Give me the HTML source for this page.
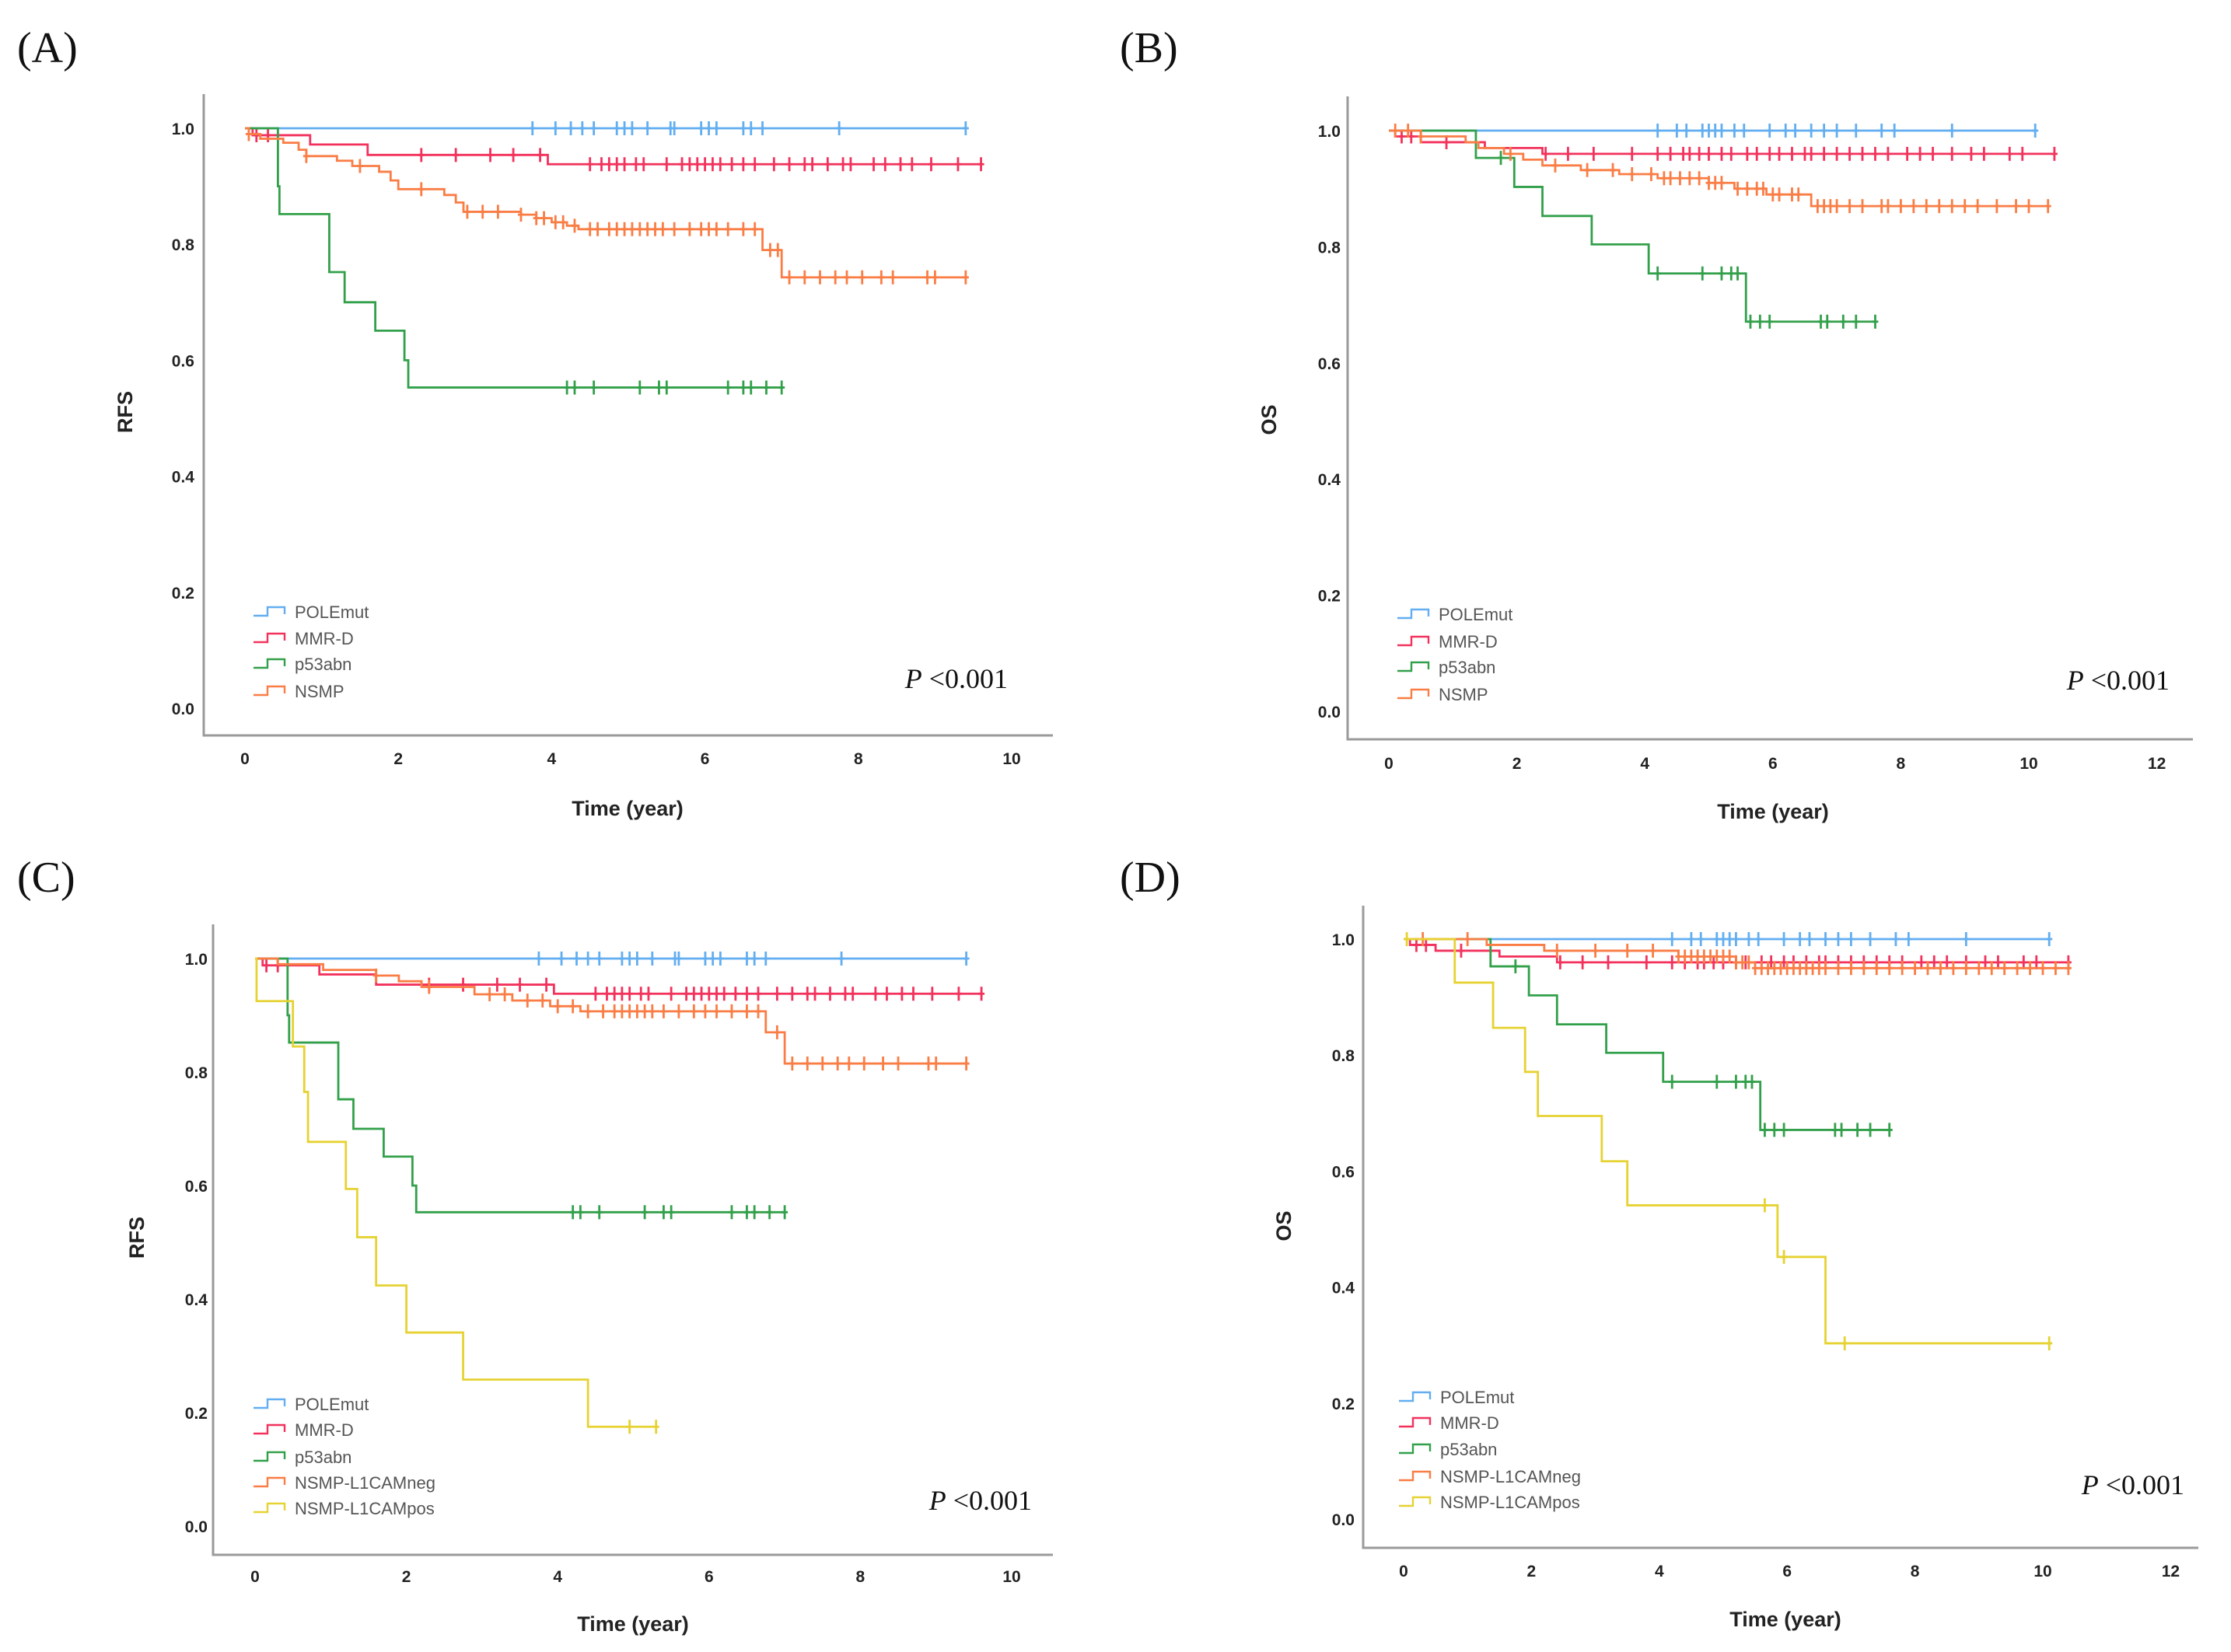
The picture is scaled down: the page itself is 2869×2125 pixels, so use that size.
<!DOCTYPE html>
<html><head><meta charset="utf-8">
<style>
html,body{margin:0;padding:0;background:#fff;}
svg{display:block;}
.tick{font-family:"Liberation Sans",Arial,sans-serif;font-weight:bold;font-size:21px;fill:#222;}
.ttl{font-family:"Liberation Sans",Arial,sans-serif;font-weight:bold;font-size:27px;fill:#222;}
.leg{font-family:"Liberation Sans",Arial,sans-serif;font-size:22px;fill:#555;}
.plab{font-family:"Liberation Serif","Times New Roman",serif;font-size:56px;fill:#111;}
.pval{font-family:"Liberation Serif","Times New Roman",serif;font-size:36px;fill:#111;}
</style></head>
<body>
<svg id="fig" width="2869" height="2125" viewBox="0 0 2869 2125" xmlns="http://www.w3.org/2000/svg"></svg>
<script>
// ---- data: steps are [time, survival] ; censors are times ; ends are last follow-up ----
const poleSteps = [];
const poleCensRFS = [3.75,4.05,4.25,4.4,4.55,4.85,4.95,5.05,5.25,5.55,5.6,5.95,6.05,6.15,6.5,6.6,6.75,7.75,9.4];
const poleCensOS = [4.2,4.5,4.65,4.9,5.0,5.1,5.2,5.4,5.55,5.95,6.2,6.35,6.6,6.8,7.0,7.3,7.7,7.9,8.8,10.1];
const mmrStepsRFS = [[0.1,0.988],[0.85,0.972],[1.6,0.954],[3.95,0.938]];
const mmrCensRFS = [0.15,0.3,2.3,2.75,3.2,3.5,3.85,4.5,4.65,4.75,4.85,4.95,5.1,5.2,5.5,5.7,5.8,5.9,6.0,6.1,6.2,6.35,6.5,6.65,6.9,7.1,7.3,7.4,7.6,7.8,7.9,8.2,8.35,8.55,8.7,8.95,9.3,9.6];
const mmrStepsOS = [[0.1,0.99],[0.5,0.98],[1.5,0.97],[2.4,0.96]];
const mmrCensOS = [0.2,0.35,0.9,2.45,2.8,3.2,3.8,4.2,4.4,4.6,4.7,4.85,5.0,5.2,5.35,5.6,5.75,5.95,6.1,6.3,6.5,6.6,6.8,7.0,7.2,7.4,7.6,7.8,8.1,8.3,8.5,8.8,9.1,9.3,9.7,9.9,10.4];
const p53StepsRFS = [[0.43,0.90],[0.45,0.852],[1.1,0.752],[1.3,0.70],[1.7,0.651],[2.08,0.60],[2.13,0.553]];
const p53CensRFS = [4.2,4.3,4.55,5.15,5.4,5.5,6.3,6.5,6.6,6.8,7.0];
const p53StepsOS = [[1.36,0.953],[1.96,0.903],[2.4,0.853],[3.17,0.804],[4.06,0.754],[5.58,0.671]];
const p53CensOS = [1.75,4.2,4.9,5.2,5.35,5.45,5.65,5.8,5.95,6.75,6.85,7.1,7.3,7.6];
const nsmpStepsRFS = [[0.05,0.99],[0.2,0.982],[0.5,0.975],[0.7,0.963],[0.8,0.952],[1.2,0.944],[1.4,0.935],[1.75,0.925],[1.9,0.91],[2.0,0.895],[2.6,0.885],[2.75,0.872],[2.85,0.856],[3.6,0.851],[3.8,0.845],[4.0,0.838],[4.2,0.832],[4.35,0.826],[6.75,0.79],[7.0,0.743]];
const nsmpCensRFS = [0.05,0.8,1.5,2.3,2.9,3.1,3.3,3.6,3.8,3.9,4.05,4.15,4.3,4.5,4.6,4.75,4.85,4.95,5.05,5.15,5.25,5.35,5.45,5.6,5.8,5.95,6.05,6.15,6.3,6.5,6.65,6.85,6.95,7.1,7.3,7.5,7.7,7.85,8.05,8.3,8.45,8.9,9.0,9.4];
const nsmpStepsOS = [[0.5,0.99],[1.2,0.98],[1.4,0.97],[1.8,0.96],[2.1,0.95],[2.4,0.94],[3.0,0.932],[3.6,0.925],[4.2,0.918],[5.0,0.91],[5.4,0.9],[5.9,0.89],[6.6,0.87]];
const nsmpCensOS = [0.1,0.3,0.5,1.9,2.6,3.1,3.5,3.8,4.1,4.3,4.4,4.55,4.7,4.85,5.0,5.1,5.2,5.45,5.6,5.75,5.85,6.0,6.1,6.3,6.4,6.7,6.8,6.9,7.0,7.2,7.4,7.7,7.8,8.0,8.2,8.4,8.6,8.8,9.0,9.2,9.5,9.8,10.0,10.3];
const negStepsRFS = [[0.3,0.99],[0.9,0.98],[1.6,0.97],[1.9,0.96],[2.2,0.95],[2.9,0.937],[3.4,0.926],[3.9,0.916],[4.3,0.907],[6.75,0.87],[7.0,0.815]];
const negCensRFS = [1.6,2.3,3.1,3.3,3.6,3.8,4.0,4.2,4.4,4.6,4.75,4.85,4.95,5.05,5.15,5.25,5.4,5.6,5.8,5.95,6.1,6.3,6.5,6.65,6.9,7.1,7.3,7.5,7.7,7.85,8.05,8.3,8.5,8.9,9.0,9.4];
const posStepsRFS = [[0.02,0.925],[0.5,0.845],[0.65,0.765],[0.7,0.677],[1.2,0.594],[1.35,0.509],[1.6,0.424],[2.0,0.341],[2.75,0.258],[4.4,0.175]];
const posCensRFS = [4.95,5.3];
const negStepsOS = [[1.3,0.99],[2.2,0.98],[4.3,0.97],[5.2,0.96],[5.5,0.95]];
const negCensOS = [0.3,1.0,2.4,3.0,3.5,3.9,4.3,4.4,4.5,4.6,4.7,4.8,4.9,5.0,5.1,5.2,5.3,5.4,5.5,5.6,5.7,5.8,5.9,6.0,6.1,6.2,6.3,6.4,6.5,6.6,6.8,7.0,7.2,7.4,7.6,7.8,8.0,8.2,8.4,8.6,8.8,9.0,9.2,9.4,9.6,9.8,10.0,10.2,10.4];
const posStepsOS = [[0.8,0.925],[1.4,0.847],[1.9,0.771],[2.1,0.695],[3.1,0.617],[3.5,0.541],[5.85,0.452],[6.6,0.303]];
const posCensOS = [0.05,5.65,5.95,6.9,10.1];
const yTickLabels = ["0.0","0.2","0.4","0.6","0.8","1.0"];
const xTicksA = [0,2,4,6,8,10];
const xTicksB = [0,2,4,6,8,10,12];

const COL = {pole:"#62aef0", mmr:"#f2325c", p53:"#32a04a", nsmp:"#fa7d45", pos:"#e6d232"};
const NS = "http://www.w3.org/2000/svg";
const svg = document.getElementById('fig');
function mk(tag, attrs, parent){const e=document.createElementNS(NS,tag);for(const k in attrs)e.setAttribute(k,attrs[k]);(parent||svg).appendChild(e);return e;}

const panels = [
 {id:"a", label:"(A)", lx:22, ly:80, axL:262, axB:946, axT:121, axR:1354, x0:315, xpu:98.6, xt:xTicksA, y1:165, y0:911, ylab:"RFS", ylx:170, yly:530, xtx:807, xty:1049, xtlY:983, ytlX:250,
  legY:[787,821,854,889], legX:326, pvR:1296, pvY:885,
  series:[["POLEmut","pole",poleSteps,poleCensRFS,9.4],["MMR-D","mmr",mmrStepsRFS,mmrCensRFS,9.6],["p53abn","p53",p53StepsRFS,p53CensRFS,7.0],["NSMP","nsmp",nsmpStepsRFS,nsmpCensRFS,9.4]]},
 {id:"b", label:"(B)", lx:1440, ly:80, axL:1733, axB:951, axT:124, axR:2820, x0:1786, xpu:82.3, xt:xTicksB, y1:168, y0:915, ylab:"OS", ylx:1641, yly:540, xtx:2280, xty:1053, xtlY:989, ytlX:1724,
  legY:[790,825,858,893], legX:1797, pvR:2790, pvY:887,
  series:[["POLEmut","pole",poleSteps,poleCensOS,10.1],["MMR-D","mmr",mmrStepsOS,mmrCensOS,10.4],["p53abn","p53",p53StepsOS,p53CensOS,7.6],["NSMP","nsmp",nsmpStepsOS,nsmpCensOS,10.3]]},
 {id:"c", label:"(C)", lx:22, ly:1147, axL:274, axB:2000, axT:1189, axR:1354, x0:328, xpu:97.3, xt:xTicksA, y1:1233, y0:1963, ylab:"RFS", ylx:185, yly:1592, xtx:814, xty:2098, xtlY:2035, ytlX:267,
  legY:[1806,1839,1874,1907,1940], legX:326, pvR:1327, pvY:1942,
  series:[["POLEmut","pole",poleSteps,poleCensRFS,9.4],["MMR-D","mmr",mmrStepsRFS,mmrCensRFS,9.6],["p53abn","p53",p53StepsRFS,p53CensRFS,7.0],["NSMP-L1CAMneg","nsmp",negStepsRFS,negCensRFS,9.4],["NSMP-L1CAMpos","pos",posStepsRFS,posCensRFS,5.3]]},
 {id:"d", label:"(D)", lx:1440, ly:1147, axL:1753, axB:1991, axT:1165, axR:2827, x0:1805, xpu:82.2, xt:xTicksB, y1:1208, y0:1954, ylab:"OS", ylx:1660, yly:1577, xtx:2296, xty:2092, xtlY:2028, ytlX:1742,
  legY:[1797,1830,1864,1899,1932], legX:1799, pvR:2809, pvY:1922,
  series:[["POLEmut","pole",poleSteps,poleCensOS,10.1],["MMR-D","mmr",mmrStepsOS,mmrCensOS,10.4],["p53abn","p53",p53StepsOS,p53CensOS,7.6],["NSMP-L1CAMneg","nsmp",negStepsOS,negCensOS,10.4],["NSMP-L1CAMpos","pos",posStepsOS,posCensOS,10.1]]}
];

function survAt(steps,t){let s=1;for(const st of steps){if(st[0]<=t)s=st[1];}return s;}

panels.forEach(p=>{
  const g = mk('g',{});
  
  
  const X = t=>p.x0+t*p.xpu;
  const Y = s=>p.y0-(p.y0-p.y1)*s;
  const lab = mk('text',{x:p.lx,y:p.ly,class:'plab'},g); lab.textContent=p.label;
  
  
  const ax = mk('path',{d:`M${p.axL},${p.axT} V${p.axB} H${p.axR}`,fill:'none',stroke:'#9a9a9a','stroke-width':3},g);
  
  
  yTickLabels.forEach((l,i)=>{
    const t=mk('text',{x:p.ytlX,y:Y(i*0.2)+8,class:'tick','text-anchor':'end'},g); t.textContent=l;
    
    
  });
  p.xt.forEach(v=>{
    const t=mk('text',{x:X(v),y:p.xtlY,class:'tick','text-anchor':'middle'},g); t.textContent=String(v);
    
    
  });
  const yt=mk('text',{x:p.ylx,y:p.yly,class:'ttl','text-anchor':'middle',transform:`rotate(-90 ${p.ylx} ${p.yly})`},g); yt.textContent=p.ylab;
  
  
  const xt=mk('text',{x:p.xtx,y:p.xty,class:'ttl','text-anchor':'middle'},g); xt.textContent='Time (year)';
  
  
  const pv=mk('text',{x:p.pvR,y:p.pvY,class:'pval','text-anchor':'end'},g);
  pv.innerHTML='<tspan font-style="italic">P</tspan> &lt;0.001';
  
  
  p.series.forEach((s,i)=>{
    const [name,ck,steps,cens,end]=s; const c=COL[ck];
    let d=`M${X(0)},${Y(1)}`;
    steps.forEach(st=>{d+=` H${X(st[0])} V${Y(st[1])}`;});
    d+=` H${X(end)}`;
    const path=mk('path',{d:d,fill:'none',stroke:c,'stroke-width':2.8},g);
    
    
    cens.forEach(t=>{
      const y=Y(survAt(steps,t)); const x=X(t);
      const m=mk('path',{d:`M${x},${y-9} V${y+9} M${x-4},${y} H${x+4}`,stroke:c,'stroke-width':2.8},g);
      
      
    });
    const ly=p.legY[i];
    const lg=mk('path',{d:`M${p.legX},${ly+5} H${p.legX+18} V${ly-6} H${p.legX+40} V${ly+3}`,fill:'none',stroke:c,'stroke-width':2.4},g);
    
    
    const lt=mk('text',{x:p.legX+53,y:ly+8,class:'leg'},g); lt.textContent=name;
    
    
  });
});
</script>
</body></html>
